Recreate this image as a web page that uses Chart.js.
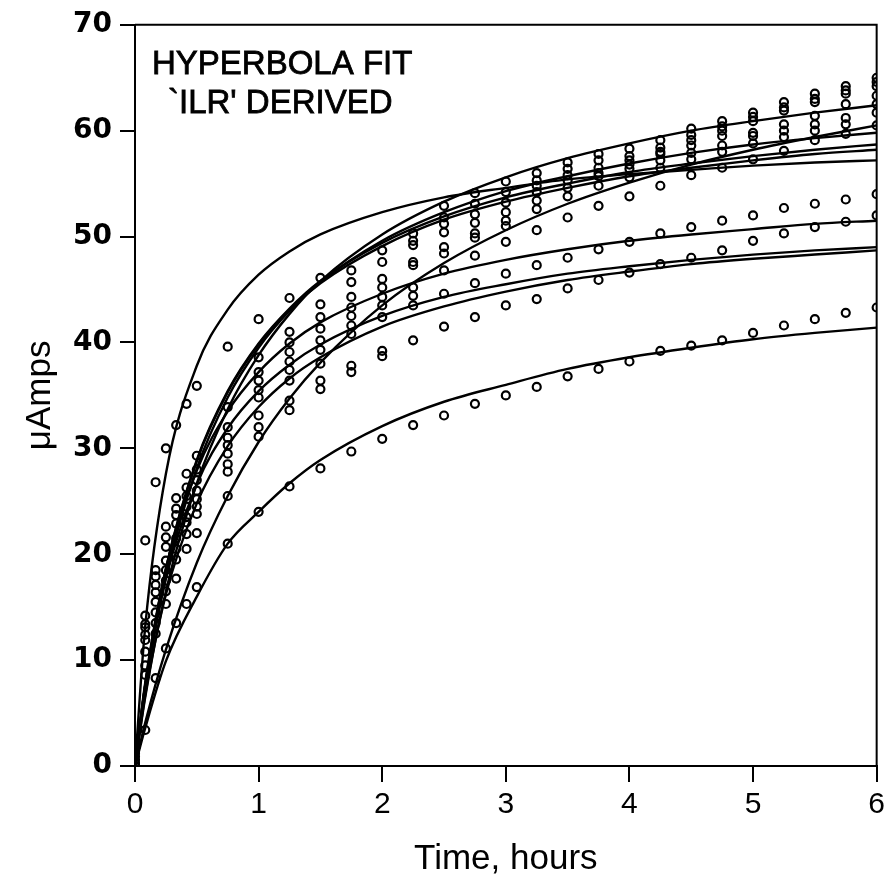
<!DOCTYPE html>
<html>
<head>
<meta charset="utf-8">
<script src="https://cdn.jsdelivr.net/npm/chart.js@4.4.1/dist/chart.umd.min.js"></script>
<style>
  html, body { margin: 0; padding: 0; background: #fff; }
  #wrap { width: 890px; height: 881px; }
</style>
</head>
<body>
<div id="wrap"><canvas id="ilrChart" width="890" height="881"></canvas></div>
<script>
// measured times (hours)
const times = [0, 0.083, 0.167, 0.25, 0.333, 0.417, 0.5, 0.75, 1, 1.25, 1.5, 1.75, 2, 2.25, 2.5, 2.75, 3, 3.25, 3.5, 3.75, 4, 4.25, 4.5, 4.75, 5, 5.25, 5.5, 5.75, 6];

// measured currents (µAmps), one array per electrode
const run1 = [2.5, 21.3, 26.8, 30.0, 32.2, 34.2, 35.9, 39.6, 42.2, 44.2, 46.1, 46.8, 48.7, 50.3, 52.9, 54.1, 55.2, 56.0, 57.0, 57.8, 58.3, 59.1, 60.2, 60.9, 61.7, 62.7, 63.5, 64.2, 65.0];
const run2 = [2.1, 14.2, 18.5, 22.6, 25.3, 27.6, 29.3, 33.9, 38.6, 41.0, 43.6, 45.7, 47.6, 49.6, 51.8, 53.1, 54.2, 55.3, 56.4, 57.2, 57.6, 58.4, 59.6, 60.4, 61.3, 62.2, 63.0, 63.8, 64.6];
const run3 = [1.8, 13.4, 17.9, 21.6, 24.3, 26.3, 28.0, 32.0, 37.2, 40.0, 42.4, 44.3, 46.0, 49.2, 51.2, 52.1, 53.2, 54.8, 55.8, 56.5, 57.2, 58.0, 59.1, 60.0, 60.9, 61.9, 62.7, 63.5, 64.2];
const run4 = [1.5, 13.1, 17.1, 20.7, 23.7, 25.5, 27.0, 31.0, 36.4, 39.1, 41.3, 43.3, 45.2, 47.6, 50.4, 51.3, 52.3, 54.2, 55.3, 56.0, 56.8, 57.8, 58.6, 59.5, 59.8, 60.6, 61.4, 62.5, 63.3];
const run5 = [1.2, 12.4, 16.4, 19.4, 22.9, 24.5, 26.0, 30.3, 35.5, 38.2, 40.2, 42.5, 44.3, 47.3, 49.0, 50.3, 51.5, 53.4, 54.6, 55.7, 56.4, 57.2, 57.9, 58.6, 59.5, 60.0, 60.6, 61.2, 62.5];
const run6 = [0.9, 11.9, 15.5, 18.5, 21.5, 23.5, 25.2, 29.5, 34.8, 37.4, 39.3, 41.6, 43.5, 45.2, 48.4, 49.9, 51.0, 52.6, 53.8, 54.8, 55.6, 56.5, 57.3, 58.0, 58.8, 59.4, 60.0, 60.6, 61.7];
const run7 = [0.6, 10.8, 14.5, 17.5, 20.5, 23.0, 24.5, 28.5, 33.1, 36.4, 38.0, 40.8, 42.4, 44.4, 46.8, 48.2, 49.5, 50.6, 51.8, 52.9, 53.8, 54.8, 55.8, 56.5, 57.3, 58.1, 59.1, 59.7, 60.5];
const run8 = [0.3, 9.5, 13.5, 16.5, 19.5, 21.9, 23.8, 27.8, 32.0, 34.5, 36.4, 37.8, 39.2, 43.5, 44.6, 45.6, 46.5, 47.3, 48.0, 48.8, 49.5, 50.3, 50.9, 51.5, 52.0, 52.7, 53.1, 53.5, 54.0];
const run9 = [0.0, 8.6, 12.5, 15.3, 17.7, 20.5, 22.0, 25.5, 31.1, 33.6, 35.6, 37.2, 38.7, 40.2, 41.5, 42.4, 43.5, 44.1, 45.1, 45.9, 46.6, 47.4, 48.0, 48.7, 49.6, 50.3, 50.9, 51.4, 52.0];
const run10 = [0.0, 3.4, 8.3, 11.1, 13.5, 15.3, 16.9, 21.0, 24.0, 26.4, 28.1, 29.7, 30.9, 32.2, 33.1, 34.2, 35.0, 35.8, 36.8, 37.5, 38.2, 39.2, 39.7, 40.2, 40.9, 41.6, 42.2, 42.8, 43.3];

// hyperbola fit curves
const fitTimes = [0, 0.083, 0.25, 0.5, 0.75, 1, 1.25, 1.5, 2, 2.5, 3, 3.5, 4, 4.5, 5, 5.5, 6];
const fit1 = [0, 6.5, 16.5, 26.7, 33.7, 38.8, 42.7, 45.8, 50.2, 53.3, 55.6, 57.4, 58.8, 60.0, 60.9, 61.7, 62.4];
const fit2 = [0, 4.1, 11.0, 19.2, 25.5, 30.6, 34.7, 38.1, 43.5, 47.5, 50.6, 53.1, 55.1, 56.8, 58.2, 59.4, 60.5];
const fit3 = [0, 7.2, 17.8, 28.1, 34.8, 39.5, 43.0, 45.7, 49.6, 52.3, 54.3, 55.7, 56.9, 57.9, 58.7, 59.3, 59.8];
const fit4 = [0, 7.6, 18.6, 28.9, 35.4, 39.9, 43.2, 45.8, 49.4, 51.9, 53.7, 55.0, 56.1, 56.9, 57.6, 58.2, 58.7];
const fit5 = [0, 7.7, 18.6, 28.8, 35.3, 39.8, 43.1, 45.6, 49.1, 51.6, 53.3, 54.6, 55.7, 56.5, 57.2, 57.8, 58.2];
const fit6 = [0, 13.2, 27.6, 37.8, 43.1, 46.4, 48.6, 50.2, 52.3, 53.7, 54.6, 55.4, 55.9, 56.3, 56.7, 57.0, 57.2];
const fit7 = [0, 7.9, 18.6, 27.9, 33.5, 37.2, 39.9, 41.9, 44.6, 46.5, 47.8, 48.8, 49.6, 50.2, 50.7, 51.2, 51.5];
const fit8 = [0, 7.6, 17.7, 26.6, 31.9, 35.4, 37.9, 39.8, 42.5, 44.3, 45.5, 46.5, 47.2, 47.8, 48.3, 48.7, 49.0];
const fit9 = [0, 6.7, 16.2, 24.8, 30.2, 33.9, 36.6, 38.6, 41.5, 43.4, 44.8, 45.9, 46.7, 47.4, 47.9, 48.3, 48.7];
const fit10 = [0, 3.6, 9.9, 16.0, 21.0, 24.0, 26.7, 28.9, 32.1, 34.4, 36.0, 37.5, 38.6, 39.5, 40.3, 40.9, 41.4];

const runs = [run1, run2, run3, run4, run5, run6, run7, run8, run9, run10];
const fits = [fit1, fit2, fit3, fit4, fit5, fit6, fit7, fit8, fit9, fit10];

function toPoints(xs, ys) {
    return xs.map((x, i) => ({ x: x, y: ys[i] }));
}

const datasets = [];
fits.forEach((f, i) => {
    datasets.push({
        type: 'line',
        label: 'fit ' + (i + 1),
        data: toPoints(fitTimes, f),
        borderColor: '#000',
        borderWidth: 2.4,
        pointRadius: 0,
        fill: false,
        cubicInterpolationMode: 'monotone'
    });
});
runs.forEach((r, i) => {
    datasets.push({
        type: 'scatter',
        label: 'run ' + (i + 1),
        data: toPoints(times, r),
        borderColor: '#000',
        backgroundColor: 'rgba(0,0,0,0)',
        borderWidth: 2.2,
        pointRadius: 4,
        pointStyle: 'circle'
    });
});

// frame on top and right + the text block
const framePlugin = {
    id: 'frame',
    afterDraw(chart) {
        const { ctx, chartArea: a } = chart;
        ctx.save();
        ctx.strokeStyle = '#000';
        ctx.lineWidth = 2;
        ctx.beginPath();
        ctx.moveTo(a.left, a.top);
        ctx.lineTo(a.right, a.top);
        ctx.lineTo(a.right, a.bottom);
        ctx.stroke();
        ctx.fillStyle = '#000';
        ctx.font = '33px "Liberation Sans", Arial, sans-serif';
        ctx.textBaseline = 'alphabetic';
        ctx.lineWidth = 0.8;
        ctx.fillText('HYPERBOLA FIT', a.left + 17, a.top + 49);
        ctx.strokeText('HYPERBOLA FIT', a.left + 17, a.top + 49);
        ctx.fillText('`ILR\' DERIVED', a.left + 33, a.top + 88);
        ctx.strokeText('`ILR\' DERIVED', a.left + 33, a.top + 88);
        ctx.restore();
    }
};

const ctx = document.getElementById('ilrChart').getContext('2d');
const ilrChart = new Chart(ctx, {
    type: 'scatter',
    data: { datasets: datasets },
    plugins: [framePlugin],
    options: {
        responsive: false,
        animation: false,
        layout: { padding: { left: 0, right: 8, top: 24, bottom: 0 } },
        plugins: {
            legend: { display: false },
            tooltip: { enabled: false }
        },
        scales: {
            x: {
                type: 'linear',
                min: 0,
                max: 6,
                afterFit: (scale) => { scale.height = 115; },
                ticks: {
                    stepSize: 1,
                    color: '#000',
                    padding: 5,
                    font: { family: '"Liberation Sans", Arial, sans-serif', size: 30 }
                },
                grid: { drawOnChartArea: false, color: '#000', tickLength: 16, lineWidth: 2 },
                border: { color: '#000', width: 2 },
                title: {
                    display: true,
                    text: 'Time, hours',
                    color: '#000',
                    padding: { top: 0, bottom: 1 },
                    font: { family: '"Liberation Sans", Arial, sans-serif', size: 35 }
                }
            },
            y: {
                type: 'linear',
                min: 0,
                max: 70,
                afterFit: (scale) => { scale.width = 135; },
                ticks: {
                    stepSize: 10,
                    color: '#000',
                    padding: 8,
                    font: { family: '"DejaVu Sans", sans-serif', size: 28, weight: 'bold' }
                },
                grid: { drawOnChartArea: false, color: '#000', tickLength: 15, lineWidth: 2 },
                border: { color: '#000', width: 2 },
                title: {
                    display: true,
                    text: 'μAmps',
                    color: '#000',
                    padding: { top: 19, bottom: 0 },
                    font: { family: '"Liberation Sans", Arial, sans-serif', size: 35 }
                }
            }
        }
    }
});
</script>
</body>
</html>
